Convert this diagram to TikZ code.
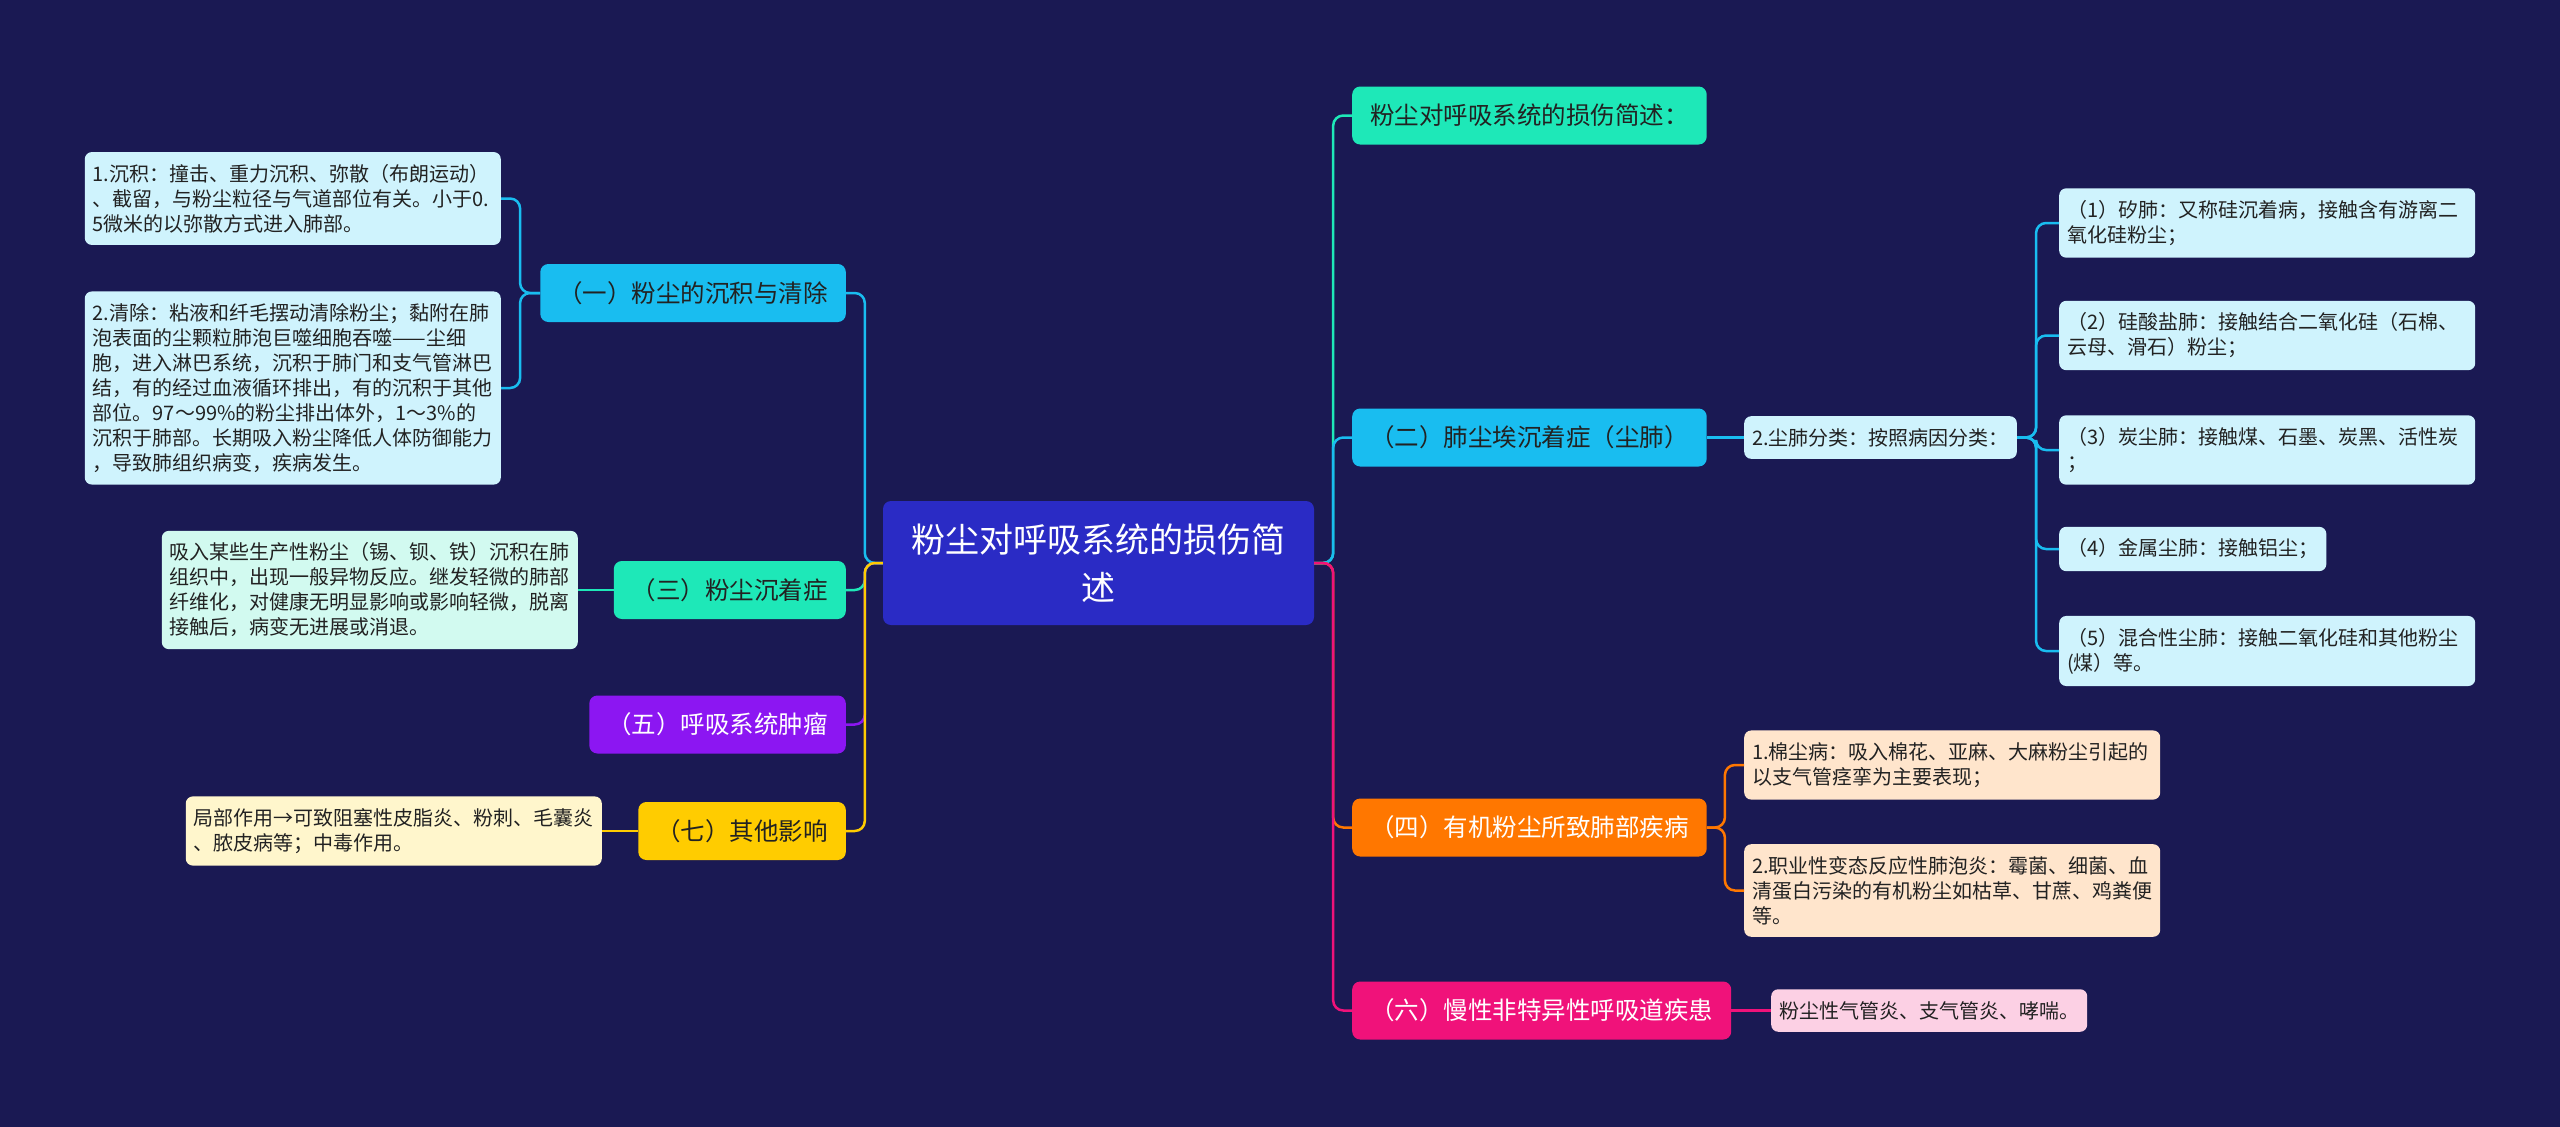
\documentclass[tikz,border=0pt]{standalone}
\usepackage{fontspec}
\setmainfont{Noto Sans CJK SC}
\definecolor{bgnavy}{HTML}{1A1953}
\definecolor{rootblue}{HTML}{2A2BC5}
\definecolor{skyblue}{HTML}{19BDF0}
\definecolor{mintgreen}{HTML}{1EE8B8}
\definecolor{purplec}{HTML}{8C16F2}
\definecolor{yellowc}{HTML}{FFCC00}
\definecolor{orangec}{HTML}{FF7700}
\definecolor{magentac}{HTML}{F0127A}
\definecolor{lightcyan}{HTML}{CFF3FD}
\definecolor{lightmint}{HTML}{D2FAF0}
\definecolor{lightyellow}{HTML}{FFF6CC}
\definecolor{lightpeach}{HTML}{FFE5CC}
\definecolor{lightpink}{HTML}{FCD0E4}
\definecolor{darktext}{HTML}{222222}

\begin{document}
\begin{tikzpicture}[x=1pt, y=-1pt,
          root/.style={fill=rootblue, text=white, rounded corners=8pt, align=center,
            font=\fontsize{34}{48}\selectfont, minimum width=431pt, minimum height=124pt},
          topic/.style={rounded corners=8pt, inner xsep=18pt, minimum height=58pt,
            font=\fontsize{24.5}{30}\selectfont, text=darktext},
          leaf/.style={rounded corners=7pt, inner xsep=8pt, inner ysep=12pt, align=left,
            font=\fontsize{20}{25}\selectfont, text=darktext},
          wide/.style={text width=400pt},
          link/.style={line width=2.5pt, rounded corners=10pt},
        ]
          \fill[bgnavy] (0,0) rectangle (2560,1127);
          \useasboundingbox (0,0) rectangle (2560,1127);
          \node[root] (root) at (1098.5,563) {粉尘对呼吸系统的损伤简\\述};
          \node[topic, fill=skyblue, anchor=east]         (A1) at (846,293)   {（一）粉尘的沉积与清除};
          \node[topic, fill=mintgreen, anchor=east]       (A3) at (846,590)   {（三）粉尘沉着症};
          \node[topic, fill=purplec, text=white, anchor=east] (A5) at (846,724.5) {（五）呼吸系统肿瘤};
          \node[topic, fill=yellowc, anchor=east]         (A7) at (846,831)   {（七）其他影响};
          \node[leaf, wide, fill=lightcyan, anchor=east] (A1a) at (501,198.5) {1.沉积：撞击、重力沉积、弥散（布朗运动）\\、截留，与粉尘粒径与气道部位有关。小于0.\\5微米的以弥散方式进入肺部。};
          \node[leaf, wide, fill=lightcyan, anchor=east] (A1b) at (501,388) {2.清除：粘液和纤毛摆动清除粉尘；黏附在肺\\泡表面的尘颗粒肺泡巨噬细胞吞噬——尘细\\胞，进入淋巴系统，沉积于肺门和支气管淋巴\\结，有的经过血液循环排出，有的沉积于其他\\部位。97～99\%的粉尘排出体外，1～3\%的\\沉积于肺部。长期吸入粉尘降低人体防御能力\\，导致肺组织病变，疾病发生。};
          \node[leaf, wide, fill=lightmint, anchor=east] (A3a) at (578,590) {吸入某些生产性粉尘（锡、钡、铁）沉积在肺\\组织中，出现一般异物反应。继发轻微的肺部\\纤维化，对健康无明显影响或影响轻微，脱离\\接触后，病变无进展或消退。};
          \node[leaf, wide, fill=lightyellow, anchor=east] (A7a) at (602,831) {局部作用→可致阻塞性皮脂炎、粉刺、毛囊炎\\、脓皮病等；中毒作用。};
          \node[topic, fill=mintgreen, anchor=west]       (B0) at (1352,115.5) {粉尘对呼吸系统的损伤简述：};
          \node[topic, fill=skyblue, anchor=west]         (B2) at (1352,437.5) {（二）肺尘埃沉着症（尘肺）};
          \node[topic, fill=orangec, text=white, anchor=west] (B4) at (1352,827.5) {（四）有机粉尘所致肺部疾病};
          \node[topic, fill=magentac, text=white, anchor=west] (B6) at (1352,1010.5) {（六）慢性非特异性呼吸道疾患};
          \node[leaf, fill=lightcyan, anchor=west] (B2a) at (1744,437.5) {2.尘肺分类：按照病因分类：};
          \node[leaf, wide, fill=lightcyan, anchor=west] (B2a1) at (2059,223) {（1）矽肺：又称硅沉着病，接触含有游离二\\氧化硅粉尘；};
          \node[leaf, wide, fill=lightcyan, anchor=west] (B2a2) at (2059,335.5) {（2）硅酸盐肺：接触结合二氧化硅（石棉、\\云母、滑石）粉尘；};
          \node[leaf, wide, fill=lightcyan, anchor=west] (B2a3) at (2059,450) {（3）炭尘肺：接触煤、石墨、炭黑、活性炭\\；};
          \node[leaf, fill=lightcyan, anchor=west] (B2a4) at (2059,549) {（4）金属尘肺：接触铝尘；};
          \node[leaf, wide, fill=lightcyan, anchor=west] (B2a5) at (2059,651) {（5）混合性尘肺：接触二氧化硅和其他粉尘\\(煤）等。};
          \node[leaf, wide, fill=lightpeach, anchor=west] (B4a) at (1744,765) {1.棉尘病：吸入棉花、亚麻、大麻粉尘引起的\\以支气管痉挛为主要表现；};
          \node[leaf, wide, fill=lightpeach, anchor=west] (B4b) at (1744,890.5) {2.职业性变态反应性肺泡炎：霉菌、细菌、血\\清蛋白污染的有机粉尘如枯草、甘蔗、鸡粪便\\等。};
          \node[leaf, fill=lightpink, anchor=west] (B6a) at (1771,1010.5) {粉尘性气管炎、支气管炎、哮喘。};
          \draw[link, mintgreen] (root.east) -- ++(19,0) |- (B0.west);
          \draw[link, skyblue]   (root.east) -- ++(19,0) |- (B2.west);
          \draw[link, orangec]   (root.east) -- ++(19,0) |- (B4.west);
          \draw[link, magentac]  (root.east) -- ++(19,0) |- (B6.west);
          \draw[link, skyblue]   (root.west) -- ++(-18,0) |- (A1.east);
          \draw[link, mintgreen] (root.west) -- ++(-18,0) |- (A3.east);
          \draw[link, purplec]   (root.west) -- ++(-18,0) |- (A5.east);
          \draw[link, yellowc]   (root.west) -- ++(-18,0) |- (A7.east);
          \draw[link, skyblue] (A1.west) -- ++(-20,0) |- (A1a.east);
          \draw[link, skyblue] (A1.west) -- ++(-20,0) |- (A1b.east);
          \draw[link, mintgreen] (A3.west) -- (A3a.east);
          \draw[link, yellowc] (A7.west) -- (A7a.east);
          \draw[link, skyblue] (B2.east) -- (B2a.west);
          \draw[link, skyblue] (B2a.east) -- ++(19,0) |- (B2a1.west);
          \draw[link, skyblue] (B2a.east) -- ++(19,0) |- (B2a2.west);
          \draw[link, skyblue] (B2a.east) -- ++(19,0) |- (B2a3.west);
          \draw[link, skyblue] (B2a.east) -- ++(19,0) |- (B2a4.west);
          \draw[link, skyblue] (B2a.east) -- ++(19,0) |- (B2a5.west);
          \draw[link, orangec] (B4.east) -- ++(18,0) |- (B4a.west);
          \draw[link, orangec] (B4.east) -- ++(18,0) |- (B4b.west);
          \draw[link, magentac] (B6.east) -- (B6a.west);
        \end{tikzpicture}
\end{document}
